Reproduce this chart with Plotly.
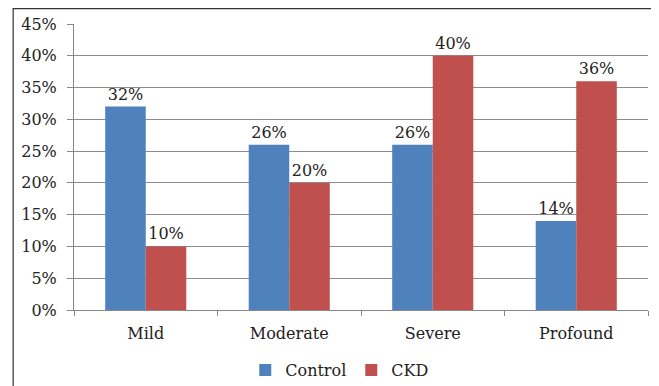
import plotly.graph_objects as go

categories = ["Mild", "Moderate", "Severe", "Profound"]
control = [0.32, 0.26, 0.26, 0.14]
ckd = [0.10, 0.20, 0.40, 0.36]
series_names = ["Control", "CKD"]

FONT = "DejaVu Serif"
FS = 16
fig = go.Figure()
fig.add_trace(go.Bar(x=categories, y=control, name=series_names[0],
                     marker=dict(color="#4F81BD", line=dict(width=8, color="rgba(0,0,0,0)")),
                     texttemplate="%{y:.0%}", textposition="outside",
                     textfont=dict(family=FONT, size=FS, color="#222"), cliponaxis=False))
fig.add_trace(go.Bar(x=categories, y=ckd, name=series_names[1],
                     marker=dict(color="#C0504D", line=dict(width=8, color="rgba(0,0,0,0)")),
                     texttemplate="%{y:.0%}", textposition="outside",
                     textfont=dict(family=FONT, size=FS, color="#222"), cliponaxis=False))

# page body has an 8px margin, so the figure is sized/placed to compensate
fig.update_layout(
    width=651, height=378,
    margin=dict(l=66, r=11, t=16, b=76, autoexpand=False),
    paper_bgcolor="white", plot_bgcolor="white",
    barmode="group", bargap=0.435, bargroupgap=0,
    font=dict(family=FONT, size=FS, color="#222"),
    showlegend=True,
    legend=dict(orientation="h", x=0.463, xanchor="center", y=-0.21, yanchor="middle",
                font=dict(family=FONT, size=FS), itemwidth=30, traceorder="normal",
                tracegroupgap=0),
    xaxis=dict(showline=True, linecolor="#888", linewidth=1, ticks="outside",
               tickson="boundaries", ticklen=5, tickcolor="#888", showgrid=False,
               automargin=False, ticklabelstandoff=9),
    yaxis=dict(range=[0, 0.45], dtick=0.05, tickformat=".0%", showline=True,
               linecolor="#888", linewidth=1, ticks="outside", ticklen=6, tickcolor="#888",
               showgrid=True, gridcolor="#8c8c8c", gridwidth=1, zeroline=False,
               automargin=False, ticklabelstandoff=7),
    shapes=[dict(type="rect", xref="paper", yref="paper", x0=-0.106, x1=1.012,
                 y0=-0.5, y1=1.054, line=dict(color="#333", width=1.2), layer="below")],
)
fig.write_html("out.html")
